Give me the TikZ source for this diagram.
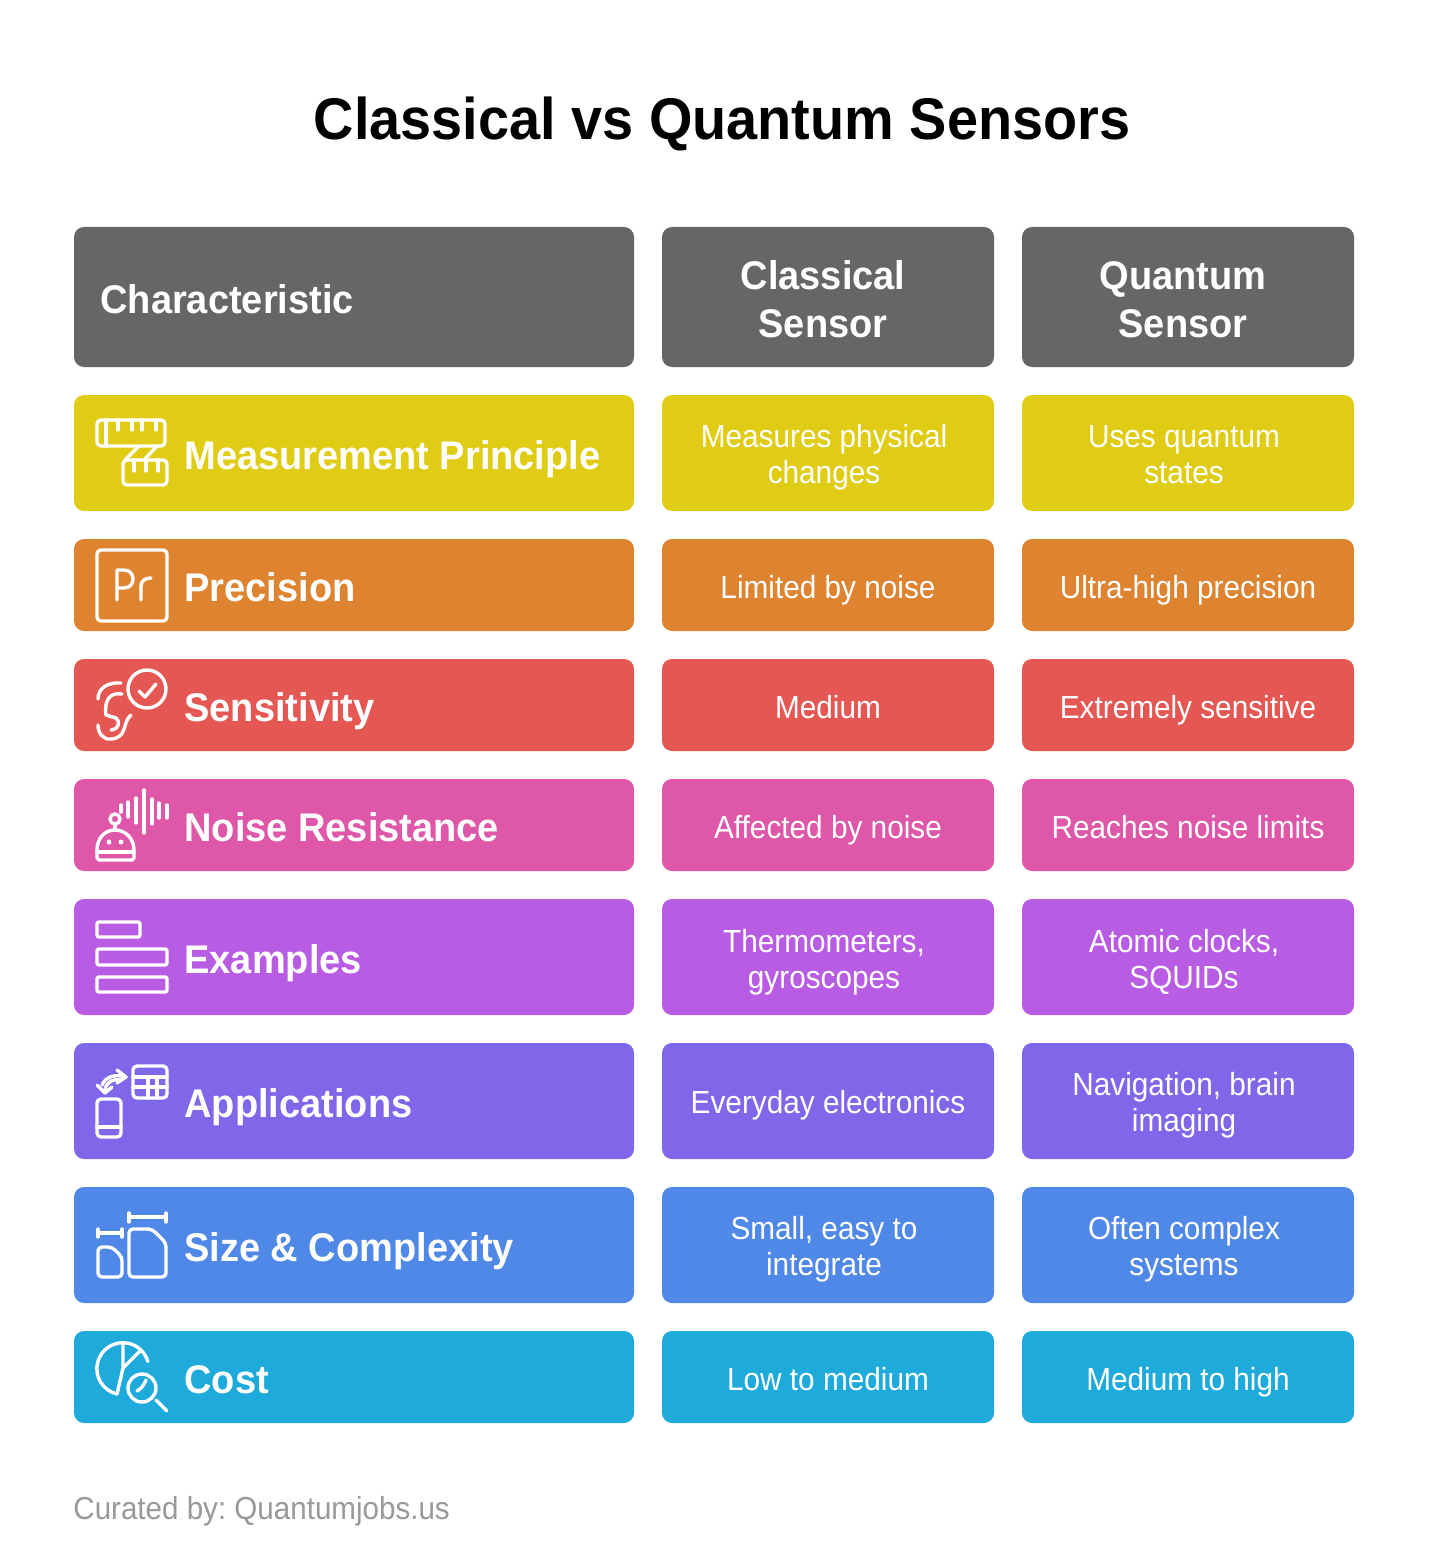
\documentclass[tikz,border=0pt]{standalone}
\usepackage{fontspec}
\setmainfont[FakeStretch=0.93,BoldFeatures={FakeStretch=0.95}]{Liberation Sans}
\definecolor{headgray}{HTML}{666666}
\definecolor{measurecol}{HTML}{E0CC14}
\definecolor{precisioncol}{HTML}{DE8330}
\definecolor{sensitivitycol}{HTML}{E55753}
\definecolor{noisecol}{HTML}{DE57A8}
\definecolor{examplescol}{HTML}{B85CE3}
\definecolor{appscol}{HTML}{8066E8}
\definecolor{sizecol}{HTML}{4F88E6}
\definecolor{costcol}{HTML}{1EAADB}
\definecolor{footgray}{HTML}{999999}
\tikzset{
  wide/.style={rounded corners=5pt,minimum width=280pt,inner sep=0pt},
  narrow/.style={rounded corners=5pt,minimum width=166pt,inner sep=0pt},
  strutted/.style={execute at begin node=\strut,execute at end node=\strut},
  headtext/.style={strutted,text=white,font=\fontsize{20}{24}\selectfont\bfseries,align=center,inner sep=0pt},
  rowtext/.style={strutted,text=white,font=\fontsize{20}{24}\selectfont\bfseries,anchor=west,inner sep=0pt},
  celltext/.style={strutted,text=white,font=\fontsize{16}{18}\selectfont,align=center,inner sep=0pt},
  icon/.style={draw=white,line width=1.7pt,line cap=round,line join=round},
}
\begin{document}
\frenchspacing
\begin{tikzpicture}[x=0.5pt,y=-0.5pt]
  \useasboundingbox (0,0) rectangle (1444,1546);
  \node[text=black,font=\fontsize{29.4}{36}\selectfont\bfseries,inner sep=0pt,anchor=base] (title) at (722,140) {Classical vs Quantum Sensors};
  % header
  \node[wide,fill=headgray,minimum height=70pt] (headA) at (354,297) {};
  \node[narrow,fill=headgray,minimum height=70pt] (headB) at (828,297) {};
  \node[narrow,fill=headgray,minimum height=70pt] (headC) at (1188,297) {};
  \node[rowtext] (headAt) at (100,303.4) {Characteristic};
  \node[headtext] (headBt) at (823,306.4) {Classical\\Sensor};
  \node[headtext] (headCt) at (1183,306.4) {Quantum\\Sensor};
  % boxes
  \node[wide,fill=measurecol,minimum height=58pt] (measureA) at (354,453) {};
  \node[narrow,fill=measurecol,minimum height=58pt] (measureB) at (828,453) {};
  \node[narrow,fill=measurecol,minimum height=58pt] (measureC) at (1188,453) {};
  \node[wide,fill=precisioncol,minimum height=46pt] (precisionA) at (354,585) {};
  \node[narrow,fill=precisioncol,minimum height=46pt] (precisionB) at (828,585) {};
  \node[narrow,fill=precisioncol,minimum height=46pt] (precisionC) at (1188,585) {};
  \node[wide,fill=sensitivitycol,minimum height=46pt] (sensitivityA) at (354,705) {};
  \node[narrow,fill=sensitivitycol,minimum height=46pt] (sensitivityB) at (828,705) {};
  \node[narrow,fill=sensitivitycol,minimum height=46pt] (sensitivityC) at (1188,705) {};
  \node[wide,fill=noisecol,minimum height=46pt] (noiseA) at (354,825) {};
  \node[narrow,fill=noisecol,minimum height=46pt] (noiseB) at (828,825) {};
  \node[narrow,fill=noisecol,minimum height=46pt] (noiseC) at (1188,825) {};
  \node[wide,fill=examplescol,minimum height=58pt] (examplesA) at (354,957) {};
  \node[narrow,fill=examplescol,minimum height=58pt] (examplesB) at (828,957) {};
  \node[narrow,fill=examplescol,minimum height=58pt] (examplesC) at (1188,957) {};
  \node[wide,fill=appscol,minimum height=58pt] (appsA) at (354,1101) {};
  \node[narrow,fill=appscol,minimum height=58pt] (appsB) at (828,1101) {};
  \node[narrow,fill=appscol,minimum height=58pt] (appsC) at (1188,1101) {};
  \node[wide,fill=sizecol,minimum height=58pt] (sizeA) at (354,1245) {};
  \node[narrow,fill=sizecol,minimum height=58pt] (sizeB) at (828,1245) {};
  \node[narrow,fill=sizecol,minimum height=58pt] (sizeC) at (1188,1245) {};
  \node[wide,fill=costcol,minimum height=46pt] (costA) at (354,1377) {};
  \node[narrow,fill=costcol,minimum height=46pt] (costB) at (828,1377) {};
  \node[narrow,fill=costcol,minimum height=46pt] (costC) at (1188,1377) {};
  % row names
  \node[rowtext] (measureAt) at (184,459.4) {Measurement Principle};
  \node[rowtext] (precisionAt) at (184,591.4) {Precision};
  \node[rowtext] (sensitivityAt) at (184,711.4) {Sensitivity};
  \node[rowtext] (noiseAt) at (184,831.4) {Noise Resistance};
  \node[rowtext] (examplesAt) at (184,963.4) {Examples};
  \node[rowtext] (appsAt) at (184,1107.4) {Applications};
  \node[rowtext] (sizeAt) at (184,1251.4) {Size \& Complexity};
  \node[rowtext] (costAt) at (184,1383.4) {Cost};
  % cell texts
  \node[celltext] (measureBt) at (824,459.8) {Measures physical\\changes};
  \node[celltext] (measureCt) at (1184,459.8) {Uses quantum\\states};
  \node[celltext] (precisionBt) at (828,590.8) {Limited by noise};
  \node[celltext] (precisionCt) at (1188,590.8) {Ultra-high precision};
  \node[celltext] (sensitivityBt) at (828,710.8) {Medium};
  \node[celltext] (sensitivityCt) at (1188,710.8) {Extremely sensitive};
  \node[celltext] (noiseBt) at (828,830.8) {Affected by noise};
  \node[celltext] (noiseCt) at (1188,830.8) {Reaches noise limits};
  \node[celltext] (examplesBt) at (824,963.8) {Thermometers,\\gyroscopes};
  \node[celltext] (examplesCt) at (1184,963.8) {Atomic clocks,\\SQUIDs};
  \node[celltext] (appsBt) at (828,1105.8) {Everyday electronics};
  \node[celltext] (appsCt) at (1184,1107) {Navigation, brain\\imaging};
  \node[celltext] (sizeBt) at (824,1251) {Small, easy to\\integrate};
  \node[celltext] (sizeCt) at (1184,1251) {Often complex\\systems};
  \node[celltext] (costBt) at (828,1382.8) {Low to medium};
  \node[celltext] (costCt) at (1188,1382.8) {Medium to high};
  \node[text=footgray,font=\fontsize{15.9}{18}\selectfont,anchor=base west,inner sep=0pt] (footer) at (73,1519) {Curated by: Quantumjobs.us};
  % tape icon
  \draw[icon,rounded corners=2pt] (97,420) rectangle (165,446);
  \draw[icon] (106,420) -- (106,446);
  \draw[icon] (118,420) -- (118,430);
  \draw[icon] (132,420) -- (132,430);
  \draw[icon] (142,420) -- (142,430);
  \draw[icon] (156,420) -- (156,430);
  \draw[icon,rounded corners=2pt] (123,460) rectangle (167,485);
  \draw[icon] (134,460) -- (134,471);
  \draw[icon] (146,460) -- (146,471);
  \draw[icon] (158,460) -- (158,471);
  \draw[icon] (139,446) -- (125,460);
  \draw[icon] (157,446) -- (144,460);
  % Pr icon
  \draw[icon,rounded corners=2pt] (97,550) rectangle (167,621);
  \draw[icon] (117,600) -- (117,570) -- (124,570) .. controls (136,570) and (136,588) .. (124,588) -- (117,588);
  \draw[icon] (141,600) -- (141,586) .. controls (141,581) and (145,578) .. (151,578);
  % ear icon
  \draw[icon] (147,689) circle (19);
  \draw[icon] (139,691) -- (145,697) -- (156,684);
  \draw[icon] (98,699) .. controls (98,688) and (108,682) .. (121,683);
  \draw[icon] (122,694) .. controls (110,692) and (104,700) .. (106,715) -- (116,718) .. controls (120,721) and (120,729) .. (111,730);
  \draw[icon] (131,715) .. controls (122,722) and (128,738) .. (111,739) .. controls (103,740) and (98,733) .. (98,725);
  % robot icon
  \draw[icon] (121,805) -- (121,812);
  \draw[icon] (128,802) -- (128,817);
  \draw[icon] (136,798) -- (136,823);
  \draw[icon] (144,790) -- (144,833);
  \draw[icon] (152,799) -- (152,824);
  \draw[icon] (159,803) -- (159,818);
  \draw[icon] (167,805) -- (167,818);
  \draw[icon] (115,819) circle (5);
  \draw[icon] (115,824) -- (115,830);
  \draw[icon] (97,858) -- (97,850) .. controls (97,838) and (105,830) .. (115,830) .. controls (125,830) and (134,838) .. (134,850) -- (134,858) -- (132,860) -- (99,860) -- cycle;
  \draw[icon] (97,852) -- (134,852);
  \fill[white] (109,842) circle (2.5);
  \fill[white] (121,842) circle (2.5);
  % bars icon
  \draw[icon,rounded corners=1pt] (97,922) rectangle (140,937);
  \draw[icon,rounded corners=1pt] (97,949) rectangle (167,965);
  \draw[icon,rounded corners=1pt] (97,977) rectangle (167,992);
  % phone and table icon
  \draw[icon,rounded corners=2pt] (133,1066) rectangle (167,1098);
  \draw[icon] (133,1077) -- (167,1077);
  \draw[icon] (133,1087) -- (167,1087);
  \draw[icon] (148,1077) -- (148,1098);
  \draw[icon] (157,1077) -- (157,1098);
  \draw[icon,rounded corners=2pt] (97,1099) rectangle (121,1137);
  \draw[icon] (97,1127) -- (121,1127);
  \draw[icon] (102,1085) .. controls (106,1076) and (116,1074) .. (126,1077);
  \draw[icon] (117,1070) -- (126,1077) -- (117,1083);
  \draw[icon] (121,1080) .. controls (112,1078) and (104,1084) .. (105,1093);
  \draw[icon] (97,1085) -- (105,1093) -- (112,1087);
  % size icon
  \draw[icon] (98,1233) -- (122,1233);
  \draw[icon] (98,1229) -- (98,1237);
  \draw[icon] (122,1229) -- (122,1237);
  \draw[icon] (129,1217) -- (166,1217);
  \draw[icon] (129,1213) -- (129,1222);
  \draw[icon] (166,1213) -- (166,1222);
  \draw[icon,rounded corners=2pt] (98,1247) -- (112,1247) -- (122,1257) -- (122,1277) -- (98,1277) -- cycle;
  \draw[icon,rounded corners=2pt] (129,1229) -- (152,1229) -- (166,1243) -- (166,1277) -- (129,1277) -- cycle;
  % pie icon
  \draw[icon] (117,1394) arc[start angle=103,end angle=344,radius=26];
  \draw[icon] (123,1343) -- (123,1368) -- (117,1394);
  \draw[icon] (123,1368) -- (141,1350);
  \draw[icon] (142,1388) circle (14);
  \draw[icon] (156,1400) -- (167,1411);
  \draw[icon] (137,1391) .. controls (141,1389) and (144,1385) .. (146,1380);
\end{tikzpicture}
\end{document}
